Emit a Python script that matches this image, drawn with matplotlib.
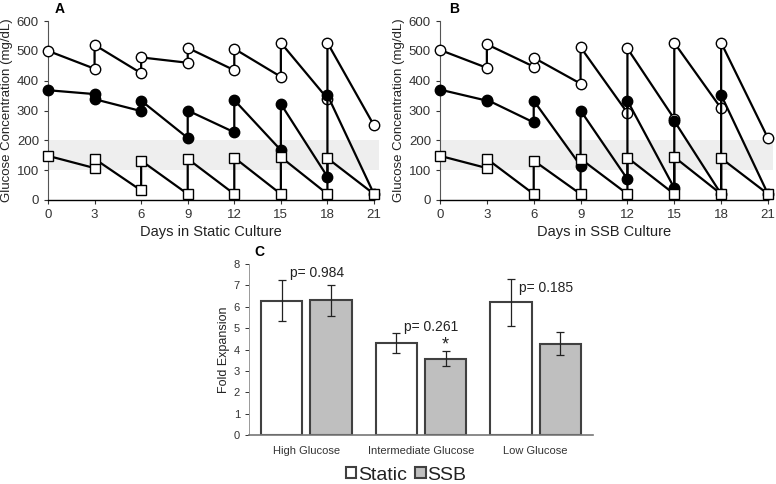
import numpy as np
import matplotlib
matplotlib.use('Agg')
import matplotlib.pyplot as plt

plt.rcParams['font.family'] = ['Liberation Sans', 'DejaVu Sans']

# sampling days: pre-feed and post-feed readings share the same day
days = [0, 3, 3, 6, 6, 9, 9, 12, 12, 15, 15, 18, 18, 21]

# panel A - static culture
static_high = [500, 440, 520, 425, 478, 460, 510, 435, 507, 413, 527, 340, 527, 250]
static_mid = [368, 355, 338, 298, 333, 208, 300, 227, 335, 167, 322, 78, 352, 20]
static_low = [148, 107, 138, 32, 132, 20, 138, 20, 142, 20, 144, 20, 140, 20]

# panel B - SSB culture
ssb_high = [503, 443, 522, 447, 477, 390, 512, 292, 508, 272, 527, 307, 527, 207]
ssb_mid = [370, 333, 336, 260, 333, 115, 300, 70, 333, 40, 265, 20, 352, 20]
ssb_low = [148, 107, 138, 20, 132, 20, 138, 20, 142, 20, 144, 20, 140, 20]

# panel C - fold expansion
groups = ['High Glucose', 'Intermediate Glucose', 'Low Glucose']
fold_static = [6.28, 4.3, 6.2]
fold_static_err = [0.95, 0.45, 1.08]
fold_ssb = [6.3, 3.57, 4.28]
fold_ssb_err = [0.73, 0.35, 0.53]
p_values = ['p= 0.984', 'p= 0.261', 'p= 0.185']

W, H = 776, 484
fig = plt.figure(figsize=(W / 100, H / 100), dpi=100)


def px_axes(x0, y0, x1, y1):
    return fig.add_axes([x0 / W, 1 - y1 / H, (x1 - x0) / W, (y1 - y0) / H])


def glucose_panel(ax, high, mid, low, xlabel, letter, lx):
    ax.fill_between([0, 21.35], 100, 200, color='#eeeeee', lw=0, clip_on=False, zorder=0)
    kw = dict(color='black', lw=1.6, ms=7.5, mew=1.0, clip_on=False, zorder=3)
    ax.plot(days, high, marker='o', mfc='white', mec='black', **kw)
    ax.plot(days, mid, marker='o', mfc='black', mec='black', **kw)
    ax.plot(days, low, marker='s', mfc='white', mec='black', ms=7, lw=1.6,
            color='black', mew=1.0, clip_on=False, zorder=4)
    ax.set_xlim(0, 21)
    ax.set_ylim(0, 600)
    ax.set_xticks(range(0, 22, 3))
    ax.set_yticks(range(0, 601, 100))
    for s in ['top', 'right']:
        ax.spines[s].set_visible(False)
    ax.spines['left'].set_color('#555555')
    ax.spines['left'].set_linewidth(0.8)
    ax.spines['bottom'].set_linewidth(1.0)
    ax.tick_params(axis='both', labelsize=9.5, colors='#333333', length=3, width=0.8)
    ax.set_xlabel(xlabel, fontsize=10.5, color='#222222', labelpad=3)
    ax.set_ylabel('Glucose Concentration (mg/dL)', fontsize=9.5, color='#222222', labelpad=3)
    ax.text(lx, 1.03, letter, transform=ax.transAxes, fontsize=10,
            fontweight='bold', ha='left', va='bottom')


axA = px_axes(48, 21, 374, 200)
glucose_panel(axA, static_high, static_mid, static_low, 'Days in Static Culture', 'A', 0.021)
axB = px_axes(440, 21, 768, 200)
glucose_panel(axB, ssb_high, ssb_mid, ssb_low, 'Days in SSB Culture', 'B', 0.027)

# bar chart
axC = px_axes(249, 264, 593, 435)
x = np.arange(len(groups))
bw = 0.36
gap = 0.035
axC.bar(x - bw / 2 - gap, fold_static, bw, yerr=fold_static_err, color='white',
        edgecolor='#404040', lw=1.5, capsize=3,
        error_kw=dict(ecolor='#222222', elinewidth=0.9, capthick=0.9), label='Static')
axC.bar(x + bw / 2 + gap, fold_ssb, bw, yerr=fold_ssb_err, color='#bfbfbf',
        edgecolor='#404040', lw=1.5, capsize=3,
        error_kw=dict(ecolor='#222222', elinewidth=0.9, capthick=0.9), label='SSB')
axC.set_xlim(-0.5, 2.5)
axC.set_ylim(0, 8)
axC.set_yticks(range(0, 9))
axC.set_xticks(x)
axC.set_xticklabels(groups)
for s in ['top', 'right']:
    axC.spines[s].set_visible(False)
axC.spines['left'].set_color('#999999')
axC.spines['left'].set_linewidth(0.7)
axC.spines['bottom'].set_color('#777777')
axC.spines['bottom'].set_linewidth(1.2)
axC.tick_params(axis='y', labelsize=8, colors='#333333', length=3, width=0.7)
axC.tick_params(axis='x', labelsize=8, colors='#333333', length=0, pad=8)
axC.set_ylabel('Fold Expansion', fontsize=9, color='#222222', labelpad=3)
axC.text(0.017, 1.03, 'C', transform=axC.transAxes, fontsize=10,
         fontweight='bold', ha='left', va='bottom')

p_y = [7.6, 5.05, 6.87]
for i, (txt, yy) in enumerate(zip(p_values, p_y)):
    axC.text(x[i] + 0.09, yy, txt, fontsize=10, ha='center', va='center', color='#222222')
axC.text(x[1] + bw / 2 + gap, 4.2, '*', fontsize=13, ha='center', va='center', color='#222222')

fig.legend(loc='center', bbox_to_anchor=(406 / W, 1 - 475 / H), ncol=2, frameon=False,
           fontsize=14, handlelength=0.55, handleheight=0.55, handletextpad=0.1,
           columnspacing=0.4, labelcolor='#222222')

fig.savefig('out.png', dpi=100)
